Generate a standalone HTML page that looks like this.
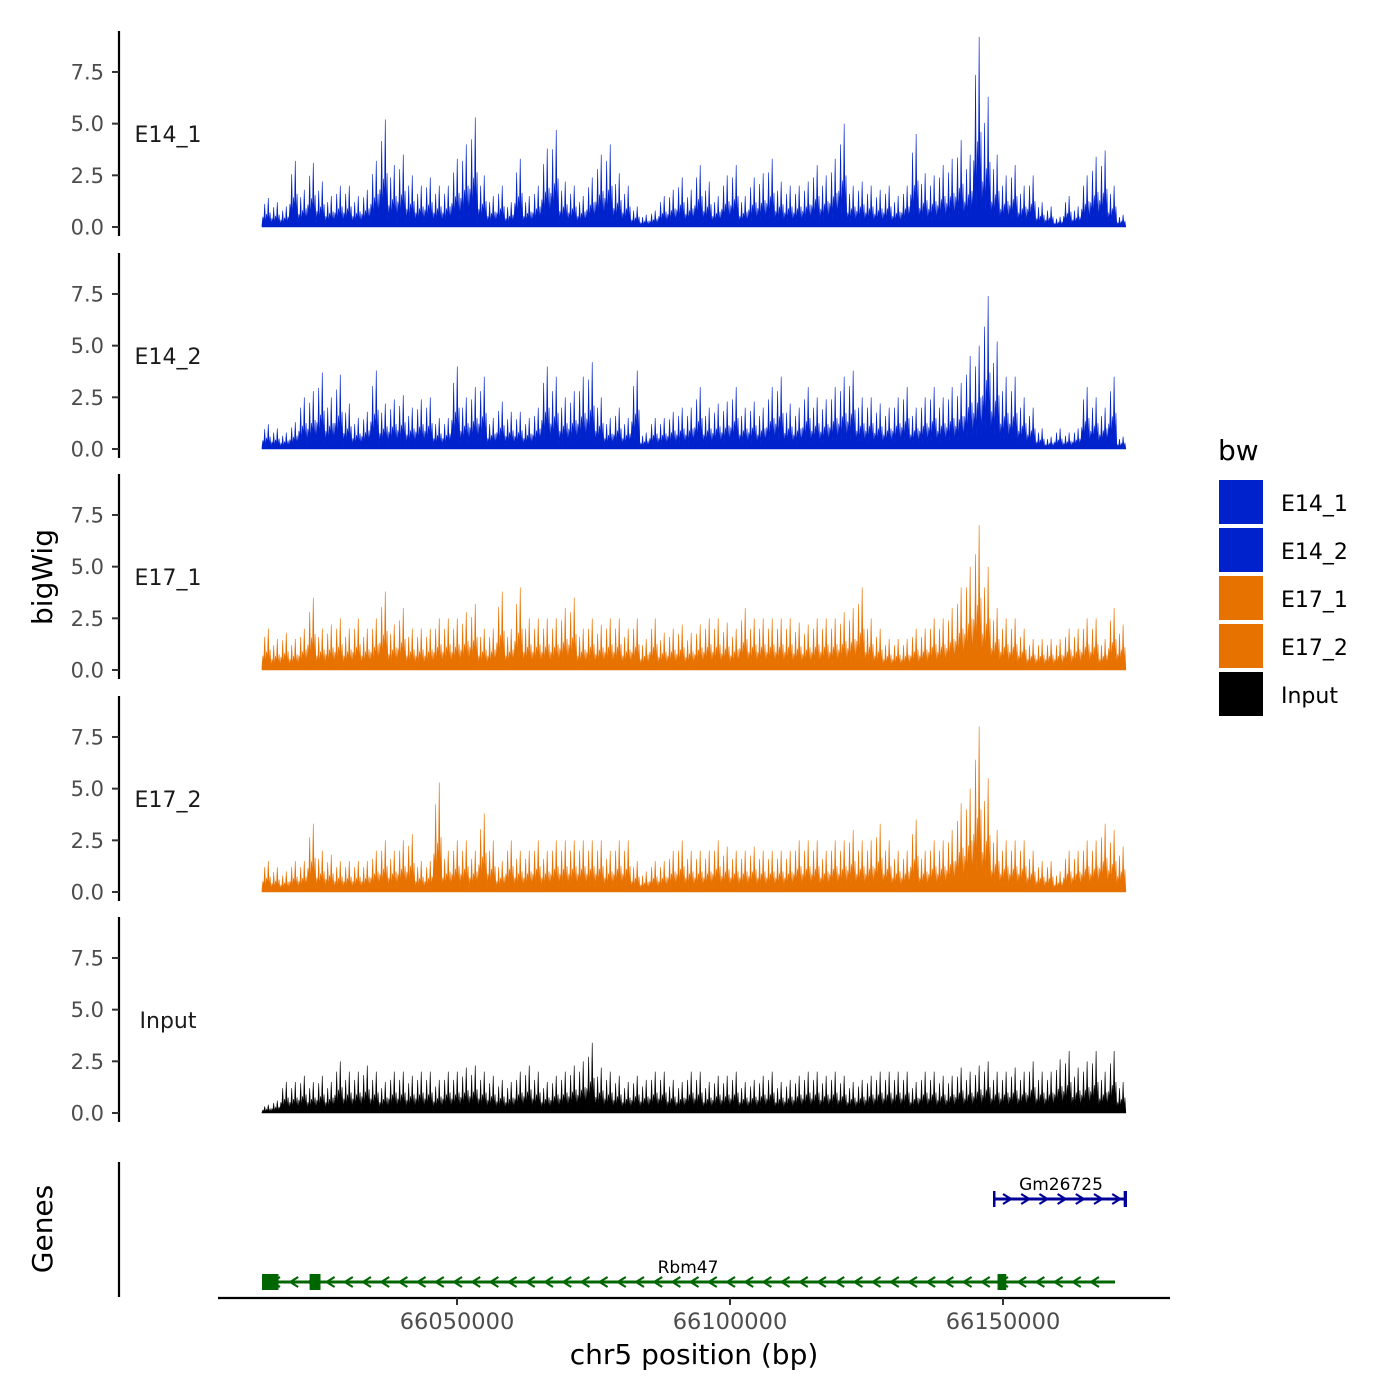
<!DOCTYPE html>
<html><head><meta charset="utf-8"><style>
html,body{margin:0;padding:0;background:#fff;}
svg{display:block;font-family:"DejaVu Sans","Liberation Sans",sans-serif;}
</style></head><body>
<svg id="chart" width="1400" height="1400" viewBox="0 0 1400 1400"></svg>
<script>
const trackNames = ["E14_1","E14_2","E17_1","E17_2","Input"];
const trackColors = ["#0022CC","#0022CC","#E87200","#E87200","#000000"];
const yTicks = [0,2.5,5,7.5];
const yTickLabels = ["0.0","2.5","5.0","7.5"];
const xTicks = [66050000,66100000,66150000];
const xTickLabels = ["66050000","66100000","66150000"];
const binStart = 66014286, binSize = 1648;
const e14_1 = [1.4,1.2,1.0,3.2,1.8,3.1,2.2,1.5,2.0,2.0,1.5,1.8,3.2,5.2,3.0,3.5,2.5,2.0,2.4,2.0,2.0,3.3,4.0,5.3,2.5,1.5,2.0,1.2,3.3,1.5,2.0,3.8,4.7,2.2,2.0,1.5,2.4,3.5,4.0,2.6,2.0,1.0,0.6,0.8,1.5,1.8,2.4,1.8,3.0,2.2,1.5,2.5,3.0,1.5,2.4,2.6,3.3,2.2,2.0,2.0,2.2,3.0,2.5,3.3,5.0,2.0,2.2,2.0,1.8,2.0,1.5,2.0,4.5,2.6,2.5,3.0,3.3,4.2,3.5,9.2,6.3,3.5,2.5,3.0,2.0,2.5,1.2,1.0,0.5,1.5,1.0,2.5,3.4,3.7,2.0,0.6];
const e14_2 = [1.2,1.0,0.8,1.3,2.5,2.8,3.7,2.5,3.6,2.2,1.5,1.8,3.8,2.2,2.4,2.6,2.0,2.4,2.5,1.5,1.5,4.0,2.5,3.0,3.5,1.5,2.3,1.8,1.8,1.5,2.0,4.0,3.5,2.5,2.8,3.5,4.2,2.5,1.5,2.0,1.5,3.8,0.8,1.5,1.5,1.8,2.0,2.0,3.0,2.0,2.2,2.3,3.0,2.0,2.3,2.0,3.0,3.5,2.2,2.0,3.0,2.5,2.4,3.0,3.5,3.8,2.5,2.5,2.2,2.0,2.5,3.0,2.0,2.5,3.0,2.5,3.0,3.2,4.5,5.0,7.4,5.2,3.5,3.5,2.5,2.0,1.0,0.6,1.0,0.8,1.0,3.0,2.5,2.0,3.5,0.6];
const e17_1 = [2.0,1.5,1.8,1.5,2.0,3.5,2.0,2.2,2.5,2.0,2.5,2.0,2.5,3.8,2.2,3.0,2.0,2.0,2.0,2.5,2.5,2.5,2.8,3.2,2.0,2.0,3.8,2.0,4.0,2.5,2.5,2.5,2.5,3.0,3.5,2.0,2.5,2.2,2.5,2.5,2.0,2.5,1.5,2.5,1.8,2.0,2.2,1.8,2.2,2.5,2.5,2.3,2.0,3.0,2.5,2.5,2.5,2.5,2.5,2.3,2.2,2.5,2.5,2.5,2.8,3.0,4.0,2.5,2.0,1.5,1.5,1.5,2.0,2.0,2.5,2.5,3.0,4.0,5.0,7.0,5.0,3.0,2.5,2.5,2.0,1.5,1.5,1.5,1.5,2.0,2.0,2.5,2.5,1.5,3.0,2.2];
const e17_2 = [1.5,1.2,1.0,1.5,1.5,3.3,2.0,1.8,1.5,1.5,1.5,1.5,2.0,2.5,2.0,2.5,2.8,1.5,1.5,5.3,2.0,2.5,2.5,2.0,3.8,2.5,1.5,2.5,2.0,2.0,2.5,2.0,2.5,2.5,2.5,2.5,2.5,2.5,2.0,2.5,2.5,1.5,1.0,1.5,1.5,2.0,2.5,2.0,2.0,2.0,2.5,2.2,2.0,2.0,2.2,2.0,2.0,2.0,2.0,2.5,2.5,2.5,2.0,2.5,2.5,3.0,2.5,2.5,3.3,2.5,2.0,2.0,3.5,2.0,2.5,2.5,3.0,4.3,5.0,8.0,5.5,3.0,2.5,2.5,2.5,2.0,1.5,1.5,1.0,2.0,2.0,2.5,2.5,3.3,3.0,2.2];
const input = [0.4,0.6,1.5,1.5,1.8,1.5,1.8,1.5,2.5,2.0,2.0,2.3,2.0,1.5,2.0,2.0,1.8,2.0,2.0,1.6,2.0,2.0,2.2,2.3,2.0,1.8,1.6,1.5,2.0,2.3,2.0,1.5,1.8,2.0,2.3,2.5,3.4,2.2,2.0,1.8,1.5,1.8,1.6,2.0,2.0,1.6,1.5,2.0,2.0,1.5,1.8,1.8,2.0,1.5,1.6,1.8,2.0,1.5,1.6,1.8,2.0,2.0,1.8,2.0,1.8,1.5,1.6,1.8,2.0,2.0,2.0,2.0,1.5,2.0,2.0,1.8,1.8,2.2,2.0,2.3,2.5,2.0,2.0,2.2,2.0,2.5,2.0,2.0,2.6,3.0,2.2,2.5,3.0,2.0,3.0,1.5];
const series = [e14_1,e14_2,e17_1,e17_2,input];
const geneNames = ["Gm26725","Rbm47"];
const geneStarts = [66148168,66014286];
const geneEnds = [66172710,66170513];
const geneStrand = [1,-1];
const geneColors = ["#000099","#006600"];
const exonStarts = [[66148168,66172100],[66014286,66023000,66149000]];
const exonEnds = [[66148600,66172710],[66017300,66025000,66150600]];

const NS="http://www.w3.org/2000/svg";
const svg=document.getElementById('chart');
function el(tag,attrs,parent){const e=document.createElementNS(NS,tag);for(const k in attrs)e.setAttribute(k,attrs[k]);(parent||svg).appendChild(e);return e;}
const xScale = bp => 457 + (bp-66050000)*273/50000;
const panelZero = [227,449,670,892,1113];
const yScale = (v,p) => panelZero[p] - v*20.67;

for(let p=0;p<5;p++){
  const g=el('g',{});
  
  
  const ax=el('line',{x1:119,x2:119,y1:panelZero[p]-196,y2:panelZero[p]+9,stroke:'#000','stroke-width':2.2},g);
  
  
  yTicks.forEach((t,i)=>{
    const y=yScale(t,p);
    const tk=el('line',{x1:112,x2:119,y1:y,y2:y,stroke:'#333','stroke-width':2},g);
    
    
    const tl=el('text',{x:104,y:y+7.5,'text-anchor':'end','font-size':21,fill:'#4d4d4d'},g);
    tl.textContent=yTickLabels[i];
    
    
  });
  const lab=el('text',{x:168,y:panelZero[p]-85,'text-anchor':'middle','font-size':22,fill:'#1a1a1a'},g);
  lab.textContent=trackNames[p];
  
  
  const vals=series[p];
  let d='M'+xScale(binStart)+','+panelZero[p];
  const fr=[0.35,0.8,0.45,1.0,0.5];
  vals.forEach((v,i)=>{
    const x0=xScale(binStart+i*binSize), x1=xScale(binStart+(i+1)*binSize);
    const w=(x1-x0)/5;
    for(let k=0;k<5;k++){
      d+=' L'+(x0+k*w).toFixed(2)+','+yScale(v*fr[k]*0.25,p).toFixed(2);
      d+=' L'+(x0+(k+0.5)*w).toFixed(2)+','+yScale(v*fr[k],p).toFixed(2);
    }
  });
  d+=' L'+xScale(binStart+vals.length*binSize)+','+panelZero[p]+' Z';
  const area=el('path',{d:d,fill:trackColors[p],stroke:trackColors[p],'stroke-width':0.6},g);
  
  
}
const gax=el('line',{x1:119,x2:119,y1:1162,y2:1297,stroke:'#000','stroke-width':2.2});


const geneY=[1199,1282];
geneNames.forEach((n,gi)=>{
  const g=el('g',{});
  
  
  const x0=xScale(geneStarts[gi]), x1=xScale(geneEnds[gi]), y=geneY[gi], c=geneColors[gi];
  el('line',{x1:x0,x2:x1,y1:y,y2:y,stroke:c,'stroke-width':3},g);
  for(let x=x0+14;x<x1-6;x+=18.2){
    const s=geneStrand[gi];
    el('polyline',{points:(x-4*s)+','+(y-5)+' '+(x+4*s)+','+y+' '+(x-4*s)+','+(y+5),fill:'none',stroke:c,'stroke-width':2.2},g);
  }
  exonStarts[gi].forEach((s,k)=>{
    const a=xScale(s), b=xScale(exonEnds[gi][k]);
    el('rect',{x:a,y:y-8,width:Math.max(b-a,2.5),height:16,fill:c},g);
  });
  const t=el('text',{x:(gi==0?1061:688),y:y-9,'text-anchor':'middle','font-size':17,fill:'#000'},g);
  t.textContent=n;
});
const xa=el('line',{x1:218,x2:1170,y1:1298,y2:1298,stroke:'#000','stroke-width':2.2});


xTicks.forEach((t,i)=>{
  const x=xScale(t);
  const tk=el('line',{x1:x,x2:x,y1:1298,y2:1305,stroke:'#333','stroke-width':2});
  
  
  const tl=el('text',{x:x,y:1329,'text-anchor':'middle','font-size':22.5,fill:'#4d4d4d'});
  tl.textContent=xTickLabels[i];
  
  
});
const xt=el('text',{x:694,y:1364,'text-anchor':'middle','font-size':28,fill:'#000'});
xt.textContent='chr5 position (bp)';


const yt=el('text',{x:0,y:0,transform:'translate(52,577) rotate(-90)','text-anchor':'middle','font-size':28,fill:'#000'});
yt.textContent='bigWig';


const gt=el('text',{x:0,y:0,transform:'translate(52,1229) rotate(-90)','text-anchor':'middle','font-size':28,fill:'#000'});
gt.textContent='Genes';


const lg=el('g',{});


const lt=el('text',{x:1218,y:460,'font-size':28,fill:'#000'},lg);
lt.textContent='bw';


trackNames.forEach((n,i)=>{
  const e=el('g',{},lg);
  
  
  el('rect',{x:1219,y:480+i*48,width:44,height:44,fill:trackColors[i]},e);
  const t=el('text',{x:1281,y:511+i*48,'font-size':22,fill:'#000'},e);
  t.textContent=n;
});
</script>
</body></html>
